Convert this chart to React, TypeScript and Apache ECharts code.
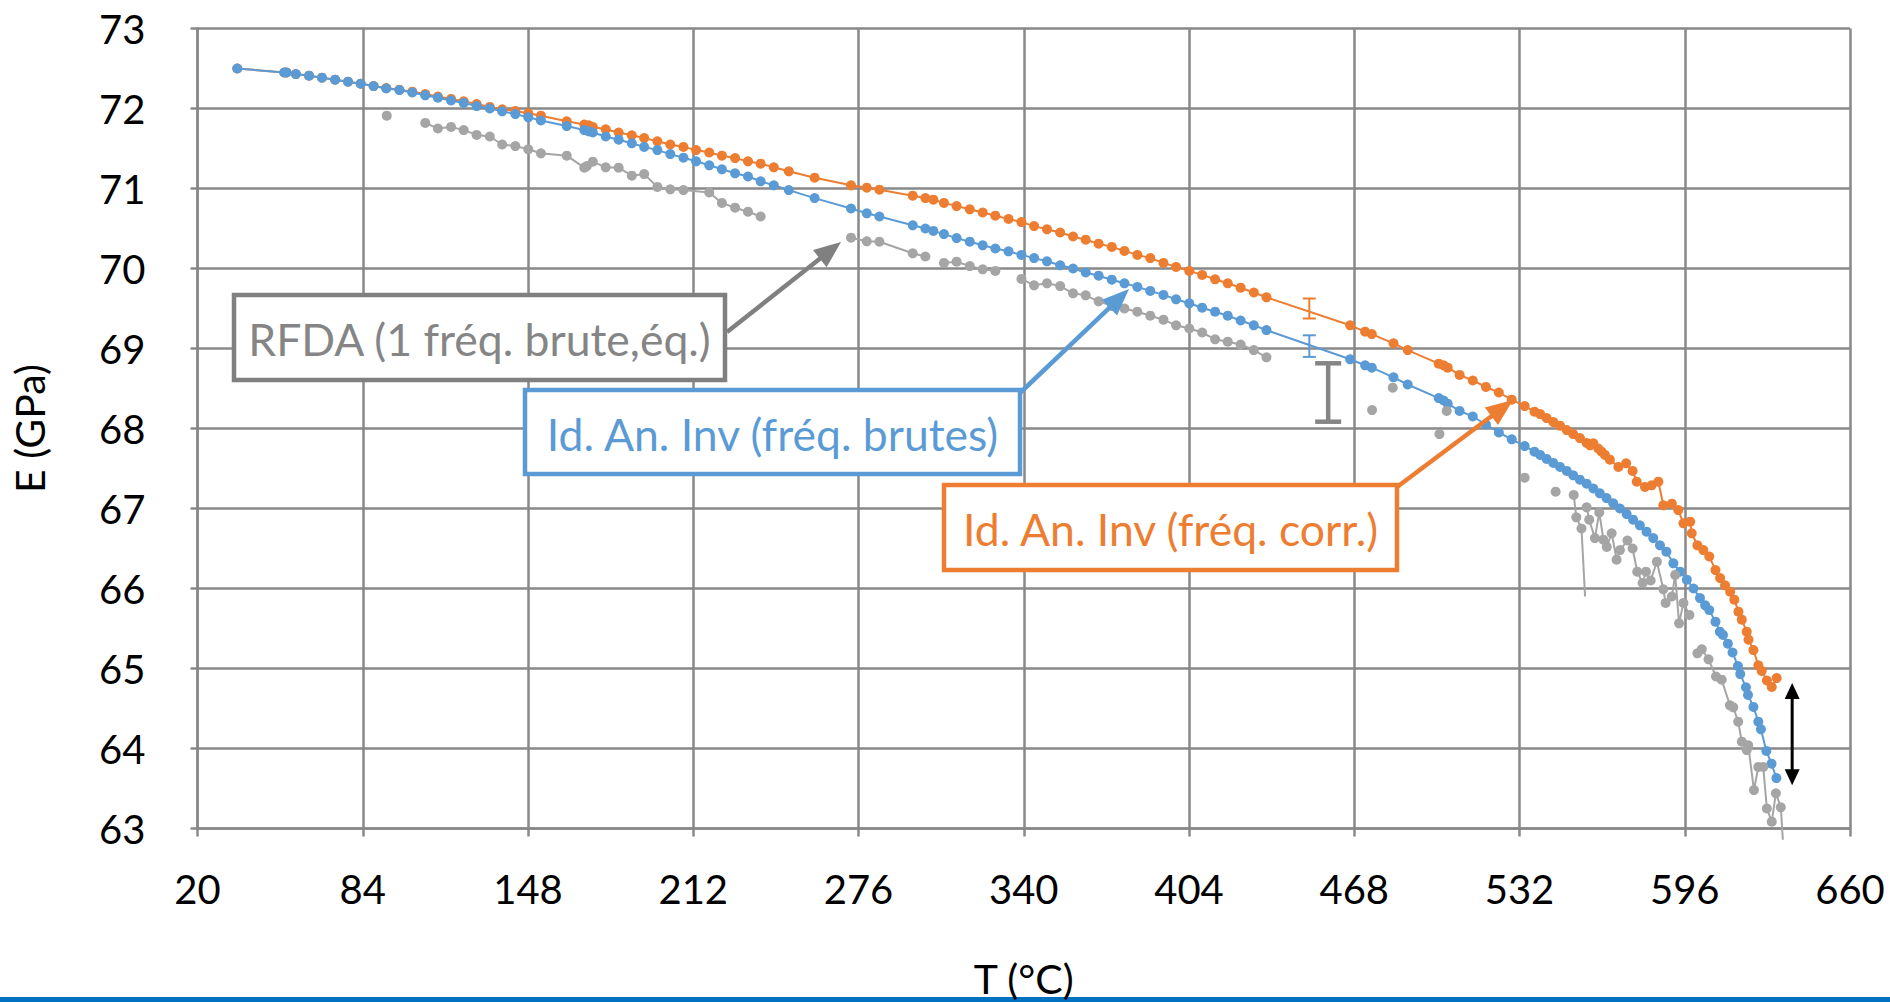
import React, { useEffect, useRef } from "react";
import * as echarts from "echarts";

// Axis ranges (T in °C, E in GPa)
const T_MIN = 20;
const T_MAX = 660;
const T_STEP = 64;
const E_MIN = 63;
const E_MAX = 73;
const E_STEP = 1;

// Id. An. Inv (fréq. corr.)
const corrT = [
  35.4, 53.6, 54.5, 58.1, 63.2, 68.2, 73.3, 78.3, 83.2, 88.2, 93.1, 98.2, 103.2, 108.2, 113.1, 118.2, 123.1,
  128.1, 133.2, 138.0, 143.1, 148.1, 153.0, 163.0, 169.8, 171.5, 173.1, 178.1, 183.1, 188.2, 193.0, 198.1,
  203.1, 208.2, 213.1, 218.2, 223.1, 228.2, 233.2, 238.1, 243.2, 249.0, 259.0, 273.1, 279.2, 284.1, 297.0,
  301.9, 305.0, 309.1, 314.0, 319.1, 324.1, 329.0, 334.1, 339.1, 344.0, 349.0, 354.1, 359.1, 364.0, 369.0,
  374.1, 379.0, 384.0, 389.0, 394.1, 399.0, 404.1, 409.1, 414.1, 419.0, 424.0, 429.1, 434.0, 466.4, 472.2,
  474.8, 483.2, 488.7, 500.7, 502.6, 504.2, 508.8, 513.9, 519.0, 524.0, 529.0, 534.0, 537.8, 540.0, 542.5,
  545.1, 547.7, 550.3, 552.8, 555.4, 558.0, 559.3, 560.6, 562.5, 563.8, 565.1, 567.0, 570.3, 573.3, 575.8,
  577.4, 580.6, 583.2, 585.8, 587.7, 591.0, 593.5, 595.5, 598.1, 598.7, 600.9, 603.2, 605.5, 607.9, 609.7,
  611.6, 613.6, 615.2, 616.8, 618.1, 620.0, 620.7, 622.6, 624.5, 625.8, 627.8, 629.7, 631.6,
];
const corrE = [
  72.5, 72.45, 72.45, 72.43, 72.41, 72.385, 72.36, 72.335, 72.31, 72.28, 72.255, 72.235, 72.21, 72.18, 72.15,
  72.12, 72.09, 72.056, 72.02, 71.99, 71.97, 71.94, 71.91, 71.84, 71.8, 71.79, 71.77, 71.74, 71.7, 71.665,
  71.63, 71.59, 71.55, 71.52, 71.48, 71.45, 71.41, 71.38, 71.34, 71.31, 71.265, 71.215, 71.135, 71.04, 71.01,
  70.985, 70.91, 70.88, 70.86, 70.82, 70.78, 70.74, 70.7, 70.66, 70.62, 70.58, 70.53, 70.49, 70.45, 70.4,
  70.36, 70.31, 70.27, 70.22, 70.17, 70.13, 70.07, 70.02, 69.97, 69.92, 69.865, 69.815, 69.76, 69.7, 69.64,
  69.29, 69.21, 69.18, 69.065, 68.98, 68.81, 68.79, 68.76, 68.67, 68.6, 68.52, 68.45, 68.36, 68.28, 68.21,
  68.18, 68.13, 68.08, 68.035, 67.98, 67.93, 67.88, 67.82, 67.79, 67.815, 67.75, 67.71, 67.67, 67.61, 67.52,
  67.565, 67.47, 67.335, 67.27, 67.29, 67.335, 67.04, 67.06, 66.98, 66.815, 66.835, 66.69, 66.54, 66.48,
  66.4, 66.23, 66.13, 66.04, 65.96, 65.86, 65.71, 65.61, 65.46, 65.36, 65.23, 65.04, 64.97, 64.85, 64.77,
  64.88,
];

// Id. An. Inv (fréq. brutes)
const rawT = [
  35.4, 53.6, 54.5, 58.1, 63.2, 68.2, 73.3, 78.3, 83.2, 88.2, 93.1, 98.2, 103.2, 108.2, 113.1, 118.2, 123.1,
  128.1, 133.2, 138.0, 143.1, 148.1, 153.0, 163.0, 169.8, 171.5, 173.1, 178.1, 183.1, 188.2, 193.0, 198.1,
  203.1, 208.2, 213.1, 218.2, 223.1, 228.2, 233.2, 238.1, 243.2, 249.0, 259.0, 273.1, 279.2, 284.1, 297.0,
  301.9, 305.0, 309.1, 314.0, 319.1, 324.1, 329.0, 334.1, 339.1, 344.0, 349.0, 354.1, 359.1, 364.0, 369.0,
  374.1, 379.0, 384.0, 389.0, 394.1, 399.0, 404.1, 409.1, 414.1, 419.0, 424.0, 429.1, 434.0, 466.4, 472.2,
  474.8, 483.2, 488.7, 500.7, 502.6, 504.2, 508.8, 513.9, 519.0, 524.0, 529.0, 534.0, 537.8, 540.0, 542.5,
  545.1, 547.7, 550.3, 552.8, 555.4, 558.0, 560.6, 563.1, 565.7, 568.3, 570.9, 573.5, 576.0, 578.6, 581.2,
  583.8, 586.4, 588.9, 591.6, 594.2, 596.8, 599.4, 601.9, 603.9, 605.5, 607.9, 609.6, 610.8, 612.7, 614.5,
  616.6, 617.5, 619.7, 620.5, 622.6, 624.5, 625.5, 627.6, 629.6, 631.5,
];
const rawE = [
  72.5, 72.45, 72.45, 72.43, 72.41, 72.385, 72.36, 72.335, 72.31, 72.28, 72.25, 72.23, 72.2, 72.165, 72.135,
  72.1, 72.07, 72.03, 72.0, 71.965, 71.93, 71.89, 71.85, 71.78, 71.73, 71.715, 71.7, 71.65, 71.61, 71.565,
  71.52, 71.48, 71.43, 71.385, 71.34, 71.29, 71.24, 71.19, 71.15, 71.09, 71.04, 70.98, 70.88, 70.75, 70.69,
  70.65, 70.54, 70.5, 70.47, 70.43, 70.38, 70.335, 70.29, 70.25, 70.215, 70.17, 70.13, 70.09, 70.04, 70.0,
  69.95, 69.91, 69.86, 69.815, 69.77, 69.72, 69.67, 69.615, 69.565, 69.51, 69.46, 69.41, 69.35, 69.29, 69.23,
  68.865, 68.79, 68.76, 68.64, 68.55, 68.38, 68.35, 68.31, 68.22, 68.15, 68.05, 67.95, 67.865, 67.78, 67.71,
  67.67, 67.62, 67.57, 67.52, 67.47, 67.415, 67.36, 67.31, 67.25, 67.19, 67.13, 67.065, 67.0, 66.93, 66.86,
  66.79, 66.71, 66.63, 66.54, 66.46, 66.315, 66.21, 66.11, 66.0, 65.88, 65.79, 65.73, 65.585, 65.46, 65.42,
  65.31, 65.2, 65.03, 64.93, 64.765, 64.67, 64.52, 64.335, 64.24, 63.97, 63.81, 63.63,
];

// RFDA (1 fréq. brute, éq.) — null breaks the trace
const rfdaT = [
  93.3, null, 108.2, 113.1, 118.2, 123.1, 128.1, 133.2, 138.0, 143.1, 148.1, 153.0, 163.0, 169.8, 170.8, 173.1,
  178.1, 183.1, 188.2, 193.0, 198.1, 203.1, 208.2, 218.2, 223.1, 228.2, 233.2, 238.1, null, 273.1, 279.2,
  284.1, 297.0, 301.9, null, 309.1, 314.0, 319.1, 324.1, 329.0, null, 339.1, 344.0, 349.0, 354.1, 359.1,
  364.0, 369.0, 374.3, 379.0, 384.0, 389.0, 394.1, 399.0, 404.1, 409.1, 414.1, 419.0, 424.0, 429.1, 434.0,
  null, 474.9, null, 482.9, null, 501.0, null, 503.8, null, 534.0, null, 546.0, null, 553.0, 554.0, 556.0,
  557.4, null, 558.0, 559.0, 561.2, 562.9, 564.5, 565.8, 567.7, 569.6, 570.9, 573.8, 575.8, 577.6, 579.7,
  581.0, 582.8, 585.2, 587.7, 588.6, 591.0, 592.3, 593.8, 595.5, 597.8, null, 600.9, 602.6, 605.2, 608.1,
  610.3, 613.5, 614.8, 616.7, 618.1, 620.0, 620.6, 622.8, 624.5, 626.4, 627.8, 629.7, 631.3, 633.2, 634.0,
];
const rfdaE = [
  71.91, null, 71.82, 71.75, 71.77, 71.73, 71.67, 71.65, 71.55, 71.53, 71.49, 71.44, 71.41, 71.26, 71.28,
  71.335, 71.265, 71.26, 71.16, 71.18, 71.02, 70.99, 70.98, 70.95, 70.82, 70.76, 70.71, 70.65, null, 70.385,
  70.34, 70.335, 70.19, 70.15, null, 70.07, 70.085, 70.03, 69.99, 69.97, null, 69.87, 69.79, 69.815, 69.78,
  69.69, 69.665, 69.59, 69.53, 69.5, 69.46, 69.41, 69.36, 69.29, 69.25, 69.2, 69.115, 69.085, 69.05, 68.98,
  68.89, null, 68.23, null, 68.51, null, 67.93, null, 68.22, null, 67.385, null, 67.21, null, 67.17, 66.89,
  66.75, 65.9, null, 67.015, 66.86, 66.63, 66.95, 66.61, 66.52, 66.69, 66.36, 66.48, 66.6, 66.5, 66.21,
  66.07, 66.21, 66.1, 66.335, 65.99, 65.82, 65.9, 66.17, 65.565, 65.82, 65.67, null, 65.19, 65.24, 65.115,
  64.9, 64.86, 64.54, 64.515, 64.335, 64.085, 63.98, 64.04, 63.48, 63.77, 63.77, 63.25, 63.085, 63.44,
  63.265, 62.86,
];
// trace points recorded without a marker
const rfdaBareT = [557.4, 634.0];

// Error bars: [T, E low, E high]
const corrErr = [[450.6, 69.375, 69.625]];
const rawErr = [[450.6, 68.895, 69.165]];
const rfdaErr = [[457.9, 68.085, 68.815]];

// Gap between the two identification curves at the end of the test: [T, E low, E high]
const endGap = [[637.6, 63.54, 64.82]];

const ORANGE = "#ED7D31";
const BLUE = "#5B9BD5";
const GRAY = "#A5A5A5";
const GRID = "#898989";
const LABEL_GRAY = "#858585";
const FONT = "Lato";

type Pt = [number, number];

function toSeriesData(ts: (number | null)[], es: (number | null)[], bare: number[] = []) {
  return ts.map((t, i) => {
    const e = es[i];
    if (t == null || e == null) return ["-", "-"];
    if (bare.includes(t)) return { value: [t, e], symbol: "none" };
    return [t, e];
  });
}

function lineSeries(name: string, data: any[], color: string, z: number, clip = true) {
  return {
    name,
    type: "line",
    data,
    symbol: "circle",
    symbolSize: 10,
    showSymbol: true,
    showAllSymbol: true,
    connectNulls: false,
    clip,
    silent: true,
    z,
    lineStyle: { color, width: 2 },
    itemStyle: { color, borderWidth: 0 },
    emphasis: { disabled: true },
  };
}

function errorBarSeries(name: string, data: number[][], color: string, cap: number, width: number) {
  return {
    name,
    type: "custom",
    data,
    silent: true,
    z: 6,
    encode: { x: 0, y: [1, 2] },
    renderItem: (_params: any, api: any) => {
      const t = api.value(0);
      const lo = api.coord([t, api.value(1)]);
      const hi = api.coord([t, api.value(2)]);
      const style = { stroke: color, lineWidth: width, fill: "none" };
      return {
        type: "group",
        children: [
          { type: "line", shape: { x1: lo[0], y1: lo[1], x2: hi[0], y2: hi[1] }, style },
          { type: "line", shape: { x1: lo[0] - cap / 2, y1: lo[1], x2: lo[0] + cap / 2, y2: lo[1] }, style },
          { type: "line", shape: { x1: hi[0] - cap / 2, y1: hi[1], x2: hi[0] + cap / 2, y2: hi[1] }, style },
        ],
      };
    },
  };
}

function doubleArrowSeries(data: number[][]) {
  const head = 16;
  const half = 7.5;
  return {
    name: "écart",
    type: "custom",
    data,
    silent: true,
    z: 6,
    encode: { x: 0, y: [1, 2] },
    renderItem: (_params: any, api: any) => {
      const t = api.value(0);
      const lo = api.coord([t, api.value(1)]);
      const hi = api.coord([t, api.value(2)]);
      return {
        type: "group",
        children: [
          {
            type: "line",
            shape: { x1: hi[0], y1: hi[1] + head - 2, x2: lo[0], y2: lo[1] - head + 2 },
            style: { stroke: "#000", lineWidth: 3 },
          },
          {
            type: "polygon",
            shape: { points: [[hi[0], hi[1]], [hi[0] - half, hi[1] + head], [hi[0] + half, hi[1] + head]] },
            style: { fill: "#000" },
          },
          {
            type: "polygon",
            shape: { points: [[lo[0], lo[1]], [lo[0] - half, lo[1] - head], [lo[0] + half, lo[1] - head]] },
            style: { fill: "#000" },
          },
        ],
      };
    },
  };
}

// Callout: framed label with an arrow pointing at a curve
function callout(
  box: { x: number; y: number; w: number; h: number },
  text: string,
  color: string,
  textColor: string,
  from: Pt,
  to: Pt
) {
  const headLen = 27;
  const headHalf = 11;
  const dx = to[0] - from[0];
  const dy = to[1] - from[1];
  const len = Math.hypot(dx, dy);
  const ux = dx / len;
  const uy = dy / len;
  const bx = to[0] - ux * headLen;
  const by = to[1] - uy * headLen;
  const px = -uy;
  const py = ux;
  return [
    {
      type: "line",
      z: 100,
      shape: { x1: from[0], y1: from[1], x2: bx + ux * 2, y2: by + uy * 2 },
      style: { stroke: color, lineWidth: 4.5 },
    },
    {
      type: "polygon",
      z: 100,
      shape: {
        points: [
          [to[0], to[1]],
          [bx + px * headHalf, by + py * headHalf],
          [bx - px * headHalf, by - py * headHalf],
        ],
      },
      style: { fill: color },
    },
    {
      type: "rect",
      z: 101,
      shape: { x: box.x, y: box.y, width: box.w, height: box.h },
      style: { fill: "#fff", stroke: color, lineWidth: 4.5 },
    },
    {
      type: "text",
      z: 102,
      x: box.x + box.w / 2,
      y: box.y + box.h / 2 + 1,
      style: {
        text,
        fill: textColor,
        fontFamily: FONT,
        fontSize: 44.5,
        align: "center",
        verticalAlign: "middle",
      },
    },
  ];
}

export default function App() {
  const ref = useRef<HTMLDivElement>(null);

  useEffect(() => {
    if (!ref.current) return;
    const chart = echarts.init(ref.current, null, { renderer: "svg" });

    const axisLineStyle = { color: GRID, width: 2.5 };

    const option: any = {
      animation: false,
      backgroundColor: "#fff",
      grid: { left: 197.5, right: 40, top: 28.5, bottom: 173.5, outerBoundsMode: "none" },
      xAxis: {
        type: "value",
        min: T_MIN,
        max: T_MAX,
        interval: T_STEP,
        axisLine: { show: true, onZero: false, lineStyle: axisLineStyle },
        axisTick: { show: true, length: 8, lineStyle: axisLineStyle },
        splitLine: { show: true, lineStyle: axisLineStyle },
        axisLabel: { margin: 40, fontSize: 40, fontFamily: FONT, color: "#000" },
      },
      yAxis: {
        type: "value",
        min: E_MIN,
        max: E_MAX,
        interval: E_STEP,
        axisLine: { show: true, onZero: false, lineStyle: axisLineStyle },
        axisTick: { show: true, length: 7, lineStyle: axisLineStyle },
        splitLine: { show: true, lineStyle: axisLineStyle },
        axisLabel: { margin: 52, fontSize: 40, fontFamily: FONT, color: "#000" },
      },
      series: [
        lineSeries("Id. An. Inv (fréq. corr.)", toSeriesData(corrT, corrE), ORANGE, 3),
        lineSeries("Id. An. Inv (fréq. brutes)", toSeriesData(rawT, rawE), BLUE, 4),
        lineSeries("RFDA (1 fréq. brute,éq.)", toSeriesData(rfdaT, rfdaE, rfdaBareT), GRAY, 5, false),
        errorBarSeries("incertitude corr.", corrErr, ORANGE, 13, 2),
        errorBarSeries("incertitude brutes", rawErr, BLUE, 13, 2),
        errorBarSeries("incertitude RFDA", rfdaErr, "#858585", 26, 4.5),
        doubleArrowSeries(endGap),
      ],
      graphic: {
        elements: [
          {
            type: "rect",
            z: 50,
            shape: { x: 0, y: 997, width: 1890, height: 5 },
            style: { fill: "#0070C0" },
          },
          {
            type: "text",
            z: 60,
            x: 1023.7,
            y: 978,
            style: {
              text: "T (°C)",
              fill: "#000",
              fontFamily: FONT,
              fontSize: 41,
              align: "center",
              verticalAlign: "middle",
            },
          },
          {
            type: "text",
            z: 60,
            x: 29,
            y: 428.5,
            rotation: Math.PI / 2,
            style: {
              text: "E (GPa)",
              fill: "#000",
              fontFamily: FONT,
              fontSize: 41,
              align: "center",
              verticalAlign: "middle",
            },
          },
          ...callout(
            { x: 234, y: 295, w: 491, h: 85 },
            "RFDA (1 fréq. brute,éq.)",
            "#808080",
            LABEL_GRAY,
            [727, 332],
            [841, 242]
          ),
          ...callout(
            { x: 525, y: 390, w: 495, h: 84 },
            "Id. An. Inv (fréq. brutes)",
            BLUE,
            BLUE,
            [1021, 392],
            [1129, 289]
          ),
          ...callout(
            { x: 944, y: 485, w: 453, h: 85 },
            "Id. An. Inv (fréq. corr.)",
            ORANGE,
            ORANGE,
            [1397, 487],
            [1513, 400]
          ),
        ],
      },
    };

    chart.setOption(option);
    return () => chart.dispose();
  }, []);

  return (
    <div
      ref={ref}
      style={{ position: "fixed", left: 0, top: 0, width: 1890, height: 1002, background: "#fff" }}
    />
  );
}
